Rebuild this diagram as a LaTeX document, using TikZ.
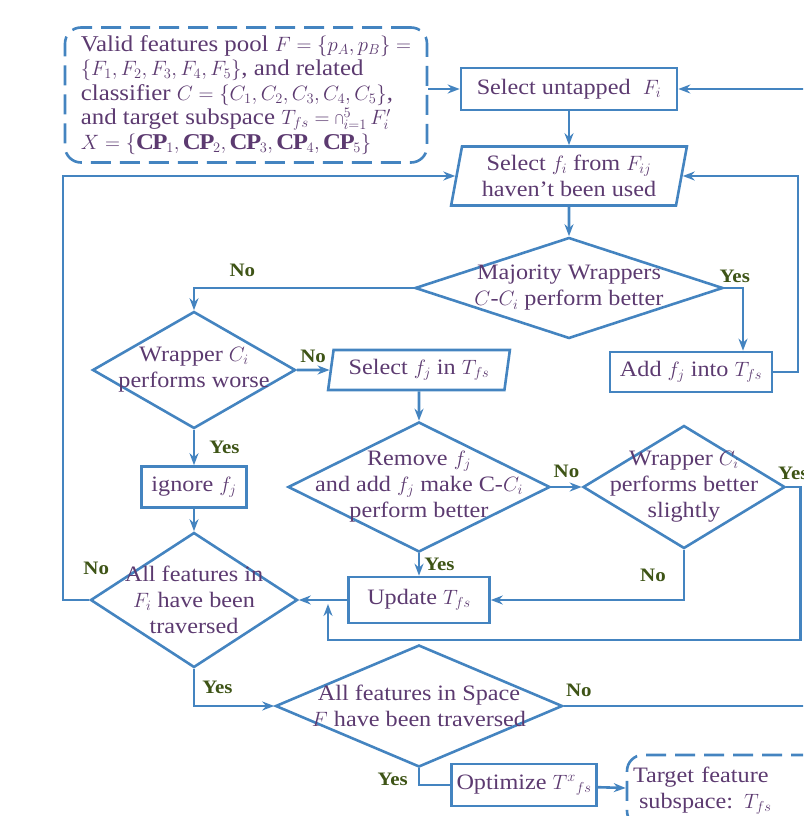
\documentclass[tikz,border=0pt]{standalone}
\usepackage{fontspec}
\setmainfont{Liberation Serif}[FakeStretch=1.1]
\usetikzlibrary{shapes.geometric,arrows.meta}

\definecolor{lineblue}{RGB}{68,132,192}
\definecolor{textpurple}{RGB}{92,58,112}
\definecolor{labelgreen}{RGB}{62,84,22}

\tikzset{
  every node/.style={font=\fontsize{22}{26}\selectfont, text=textpurple, align=center},
  procbox/.style={draw=lineblue, line width=2.6pt, inner sep=0pt},
  iobox/.style={trapezium, trapezium stretches=true, trapezium left angle=78,
    trapezium right angle=102, draw=lineblue, line width=2.6pt, inner sep=0pt},
  decision/.style={diamond, draw=lineblue, line width=2.6pt, inner sep=0pt},
  dashbox/.style={draw=lineblue, line width=2.6pt, dash pattern=on 20pt off 9pt,
    rounded corners=16pt, inner sep=0pt},
  flow/.style={draw=lineblue, line width=2.6pt, -{Stealth[length=12pt,width=9pt]}},
  link/.style={draw=lineblue, line width=2.6pt},
  lbl/.style={font=\fontsize{19}{22}\selectfont\bfseries, text=labelgreen, inner sep=2pt}
}

\begin{document}
\begin{tikzpicture}[x=1pt,y=-1pt]
\useasboundingbox (0,0) rectangle (803,816);
\clip (0,0) rectangle (803,816);

\coordinate (lrail) at (63,0);
\coordinate (rrail) at (798,0);
\coordinate (edge) at (815,0);
\coordinate (merge) at (328,604);

\node[dashbox, minimum width=362, minimum height=135, align=left,
  font=\fontsize{22.6}{24.5}\selectfont] (pool) at (246,95)
  {\lineskiplimit=-8pt\relax Valid features pool $F=\{p_A,p_B\}=$\\
   $\{F_1,F_2,F_3,F_4,F_5\}$, and related\\
   classifier $C=\{C_1,C_2,C_3,C_4,C_5\}$,\\
   and target subspace $T_{fs}=\bigcap\nolimits_{i=1}^{5}F_i'$\\
   $X=\{\mathbf{CP}_1,\mathbf{CP}_2,\mathbf{CP}_3,\mathbf{CP}_4,\mathbf{CP}_5\}$};
\node[procbox, minimum width=216, minimum height=42] (untap) at (569,89) {Select untapped~ $F_i$};
\node[iobox, minimum width=236, minimum height=59] (selfi) at (569,176) {Select $f_i$ from $F_{ij}$\\haven't been used};
\node[decision, minimum width=308, minimum height=101] (major) at (569,288) {};
\node at (major) {Majority Wrappers\\$C$-$C_i$ perform better};
\node[procbox, minimum width=162, minimum height=40] (addfj) at (691,372) {Add $f_j$ into $T_{fs}$};
\node[decision, minimum width=203, minimum height=117] (worse) at (194,370) {};
\node at (worse) {Wrapper $C_i$\\performs worse};
\node[iobox, minimum width=182, minimum height=40] (selfj) at (419,370) {Select $f_j$ in $T_{fs}$};
\node[decision, minimum width=262, minimum height=130] (remove) at (419,487) {};
\node at (remove) {Remove $f_j$\\and add $f_j$ make C-$C_i$\\perform better};
\node[decision, minimum width=202, minimum height=123] (better) at (684,487) {};
\node at (better) {Wrapper $C_i$\\performs better\\slightly};
\node[procbox, minimum width=105, minimum height=41] (ignore) at (194,487) {ignore $f_j$};
\node[procbox, minimum width=141, minimum height=46] (update) at (419,600) {Update $T_{fs}$};
\node[decision, minimum width=207, minimum height=135] (allfi) at (194,600) {};
\node at (allfi) {All features in\\$F_i$ have been\\traversed};
\node[decision, minimum width=287, minimum height=122] (allsp) at (419,706) {};
\node at (allsp) {All features in Space\\$F$ have been traversed};
\node[procbox, minimum width=145, minimum height=42] (optim) at (524,785) {Optimize $T^{x}{}_{fs}$};
\node[dashbox, minimum width=200, minimum height=72, text width=188, align=left] (target) at (727,791)
  {Target feature\\\hspace*{6pt}subspace: $T_{fs}$};

\foreach \a/\b in {untap/selfi,selfi/major,selfj/remove,ignore/allfi,update/allfi,optim/target}
    \draw[flow] (\a) -- (\b);

\draw[flow] (pool.east |- untap) -- (untap);
\draw[flow] (allsp.east) -- node[lbl, above=6pt, pos=0.06] {No} (allsp.east -| edge) |- (untap);
\draw[flow] (allfi.west) -- node[lbl, above=22pt, pos=0, xshift=7pt] {No} (allfi.west -| lrail) |- (selfi);
\draw[flow] (addfj.east) -- (addfj.east -| rrail) |- (selfi);
\draw[flow] (major.east) -| node[lbl, above=2pt, pos=0.28] {Yes} ([xshift=52pt]addfj.north);
\draw[flow] (major.west) -| node[lbl, above=8pt, pos=0.39] {No} (worse.north);
\draw[flow] (worse) -- node[lbl, above=4pt] {No} (selfj);
\draw[flow] (worse) -- node[lbl, right=12pt] {Yes} (ignore);
\draw[flow] (remove) -- node[lbl, above=6pt] {No} (better);
\draw[flow] (remove) -- node[lbl, right=2pt] {Yes} (update);
\draw[flow] (better.east) -- node[lbl, above=4pt] {Yes} ++(14,0) |- ([yshift=-36pt]merge) -- (merge);
\draw[flow] (better) |- node[lbl, left=15pt, pos=0.25] {No} (update);
\draw[flow] (allfi) |- node[lbl, right=5pt, pos=0.25] {Yes} (allsp);
\draw[link] (allsp) |- node[lbl, left=8pt, pos=0.5, yshift=6pt] {Yes} (optim);
\end{tikzpicture}
\end{document}
